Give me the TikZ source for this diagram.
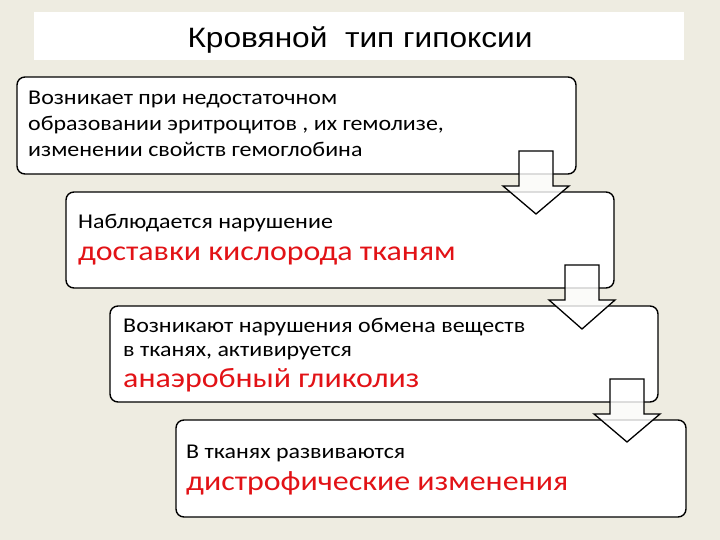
\documentclass[tikz,border=0pt]{standalone}
\usepackage{fontspec}
\setmainfont{Carlito}
\newfontfamily\titlefont{Liberation Sans}
\usetikzlibrary{calc,positioning}
\definecolor{slidebg}{RGB}{238,236,225}
\definecolor{keyred}{RGB}{226,18,22}
\tikzset{%
	stagebox/.style = {draw, line width=1.4pt, rounded corners=8pt, fill=white, anchor=north west, inner sep=0pt, outer sep=0pt},
	slidetext/.style= {anchor=base west, inner sep=0pt, xscale=1.14, transform shape},
	bodytext/.style = {slidetext, font=\fontsize{21}{25}\selectfont},
	keytext/.style  = {slidetext, text=keyred, font=\fontsize{28}{33}\selectfont},
	downarrow/.style= {draw, line width=1.3pt, fill=white, fill opacity=0.8, line join=miter},
}

\begin{document}
\begin{tikzpicture}[x=1pt,y=-1pt]
	\useasboundingbox[fill=slidebg] (0,0) rectangle (720,540);
	% title
	\fill[white] (34,12) rectangle (684,60);
	\node[font=\titlefont\fontsize{28}{33}\selectfont, anchor=base, xscale=1.13, transform shape] (title) at (360,48) {Кровяной\ \ тип гипоксии};
	% stages
	\node[stagebox, minimum width=559pt, minimum height=97pt] (b1) at (17,77) {};
	\node[stagebox, minimum width=548pt, minimum height=96pt] (b2) at (66,192) {};
	\node[stagebox, minimum width=548pt, minimum height=96pt] (b3) at (110,306) {};
	\node[stagebox, minimum width=510pt, minimum height=97pt] (b4) at (176,420) {};
	% texts
	\node[bodytext] (t1a) at (28,105) {Возникает при недостаточном};
	\node[bodytext] (t1b) at (28,131) {образовании эритроцитов , их гемолизе,};
	\node[bodytext] (t1c) at (28,157) {изменении свойств гемоглобина};
	\node[bodytext] (t2a) at (78,229) {Наблюдается нарушение};
	\node[keytext]  (t2b) at (78,260) {доставки кислорода тканям};
	\node[bodytext] (t3a) at (123,332) {Возникают нарушения обмена веществ};
	\node[bodytext] (t3b) at (123,356) {в тканях, активируется};
	\node[keytext]  (t3c) at (123,387) {анаэробный гликолиз};
	\node[bodytext] (t4a) at (186,458) {В тканях развиваются};
	\node[keytext]  (t4b) at (186,490) {дистрофические изменения};
	% arrows between stages
	\foreach \cx/\top/\neck/\tip in {536/151/186/214, 582/265/300/329, 627/379/414/442}
		\draw[downarrow] (\cx-17,\top) -- (\cx+17,\top) -- (\cx+17,\neck) -- (\cx+33,\neck)
			-- (\cx,\tip) -- (\cx-33,\neck) -- (\cx-17,\neck) -- cycle;
\end{tikzpicture}
\end{document}
